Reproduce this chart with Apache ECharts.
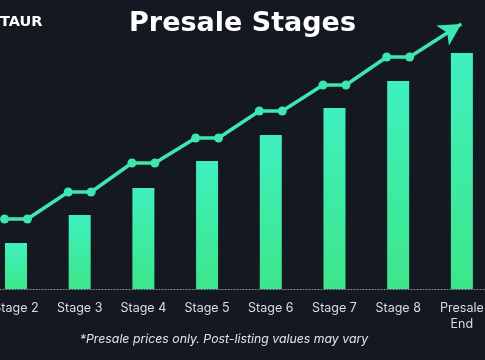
<!DOCTYPE html>
<html>
<head>
<meta charset="utf-8">
<script src="https://cdn.jsdelivr.net/npm/echarts@6/dist/echarts.min.js"></script>
<style>
html,body{margin:0;padding:0;background:#141821;}
#c{width:485px;height:360px;}
</style>
</head>
<body>
<div id="c"></div>
<script>
const categories = ['Stage 2','Stage 3','Stage 4','Stage 5','Stage 6','Stage 7','Stage 8','Presale\nEnd'];
const barValues = [46, 74, 101, 128, 154, 181, 208, 236];
const lineValues = [70, 97, 126, 151, 178, 204, 232];
const arrowEnd = [6.99, 265];
const titleText = 'Presale Stages';
const brandText = 'TAUR';
const footnote = '*Presale prices only. Post-listing values may vary';

const half = 0.18;
const catIdx = categories.map((c, i) => i);
const barData = barValues.map((v, i) => [i, v]);
const linePoints = [];
lineValues.forEach((v, i) => {
  linePoints.push([i - half, v]);
  linePoints.push([i + half, v]);
});
linePoints.push({value: arrowEnd, symbol: 'arrow', symbolSize: [18, 22], symbolRotate: -58});

const chart = echarts.init(document.getElementById('c'));
const FONT = 'Inter, "Noto Sans", sans-serif';
chart.setOption({
  backgroundColor: '#141821',
  animation: false,
  title: {
    text: titleText, left: 'center', top: 5,
    textStyle: {color: '#ffffff', fontSize: 27, fontWeight: 700, fontFamily: '"DejaVu Sans", sans-serif'}
  },
  graphic: [
    {type: 'text', left: 0, top: 15, style: {text: brandText, fill: '#ffffff', font: '700 14.5px "DejaVu Sans", sans-serif'}},
    {type: 'text', x: 224, y: 339, style: {text: footnote, fill: '#e2e5ea', font: 'italic 12.3px ' + FONT, align: 'center', verticalAlign: 'middle'}}
  ],
  grid: {left: 0, right: 0, top: 9, bottom: 71, containLabel: false, outerBoundsMode: 'none'},
  xAxis: {
    type: 'value', min: -0.251, max: 7.363,
    splitLine: {show: false},
    axisLine: {lineStyle: {color: '#8b909a', type: [1, 2], width: 1}},
    axisTick: {show: false},
    axisLabel: {
      customValues: catIdx,
      formatter: v => categories[Math.round(v)] || '',
      color: '#d9dde3', fontSize: 12.5, fontFamily: FONT, margin: 11, lineHeight: 16,
      showMinLabel: true, showMaxLabel: true, hideOverlap: false
    }
  },
  yAxis: {type: 'value', min: 0, max: 280, show: false, splitLine: {show: false}},
  series: [
    {
      type: 'bar', data: barData, barWidth: 22,
      itemStyle: {
        color: new echarts.graphic.LinearGradient(0, 0, 0, 1, [
          {offset: 0, color: '#3ff0bf'},
          {offset: 1, color: '#3de68a'}
        ])
      }
    },
    {
      type: 'line', data: linePoints,
      symbol: 'circle', symbolSize: 9, showAllSymbol: true,
      lineStyle: {color: '#3ee6b0', width: 3.5},
      itemStyle: {color: '#3ee6b0'},
      clip: false, z: 5
    }
  ]
});
</script>
</body>
</html>
